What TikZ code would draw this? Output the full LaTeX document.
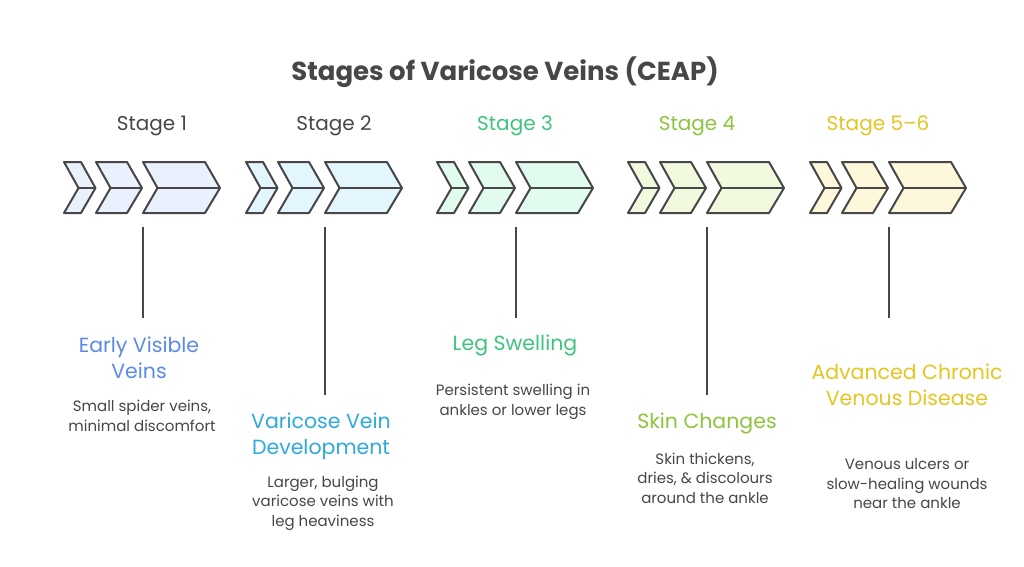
\documentclass[tikz,border=0pt]{standalone}
\usepackage{fontspec}
\setmainfont{Poppins}
\definecolor{ink}{HTML}{474747}
\definecolor{fillA}{HTML}{EAF0FD}
\definecolor{fillB}{HTML}{E4F6FD}
\definecolor{fillC}{HTML}{E2FBEF}
\definecolor{fillD}{HTML}{F1FADF}
\definecolor{fillE}{HTML}{FDF7DC}
\definecolor{colA}{HTML}{5B8BE6}
\definecolor{colB}{HTML}{2EA9DD}
\definecolor{colC}{HTML}{3EC47E}
\definecolor{colD}{HTML}{8DC53E}
\definecolor{colE}{HTML}{E2C624}
\newcommand{\chevgroup}[2]{%
  \begin{scope}[shift={(#1,0)}]
    \filldraw[chev, fill=#2] (0,162) -- (17,162) -- (31.5,188) -- (17,213) -- (0,213) -- (14.5,188) -- cycle;
    \draw[chev] (14.5,188) -- (31.5,188);
    \filldraw[chev, fill=#2] (32,162) -- (63,162) -- (78,188) -- (63,213) -- (32,213) -- (46.5,188) -- cycle;
    \draw[chev] (46.5,188) -- (78,188);
    \filldraw[chev, fill=#2] (79,162) -- (141,162) -- (156,188) -- (141,213) -- (79,213) -- (93.5,188) -- cycle;
    \draw[chev] (93.5,188) -- (156,188);
  \end{scope}}
\begin{document}
\begin{tikzpicture}[x=1pt,y=-1pt,
  chev/.style={draw=ink, line width=2pt, line join=round},
  stem/.style={draw=ink, line width=2pt},
  stagelbl/.style={font=\fontsize{20}{22}\selectfont, anchor=center},
  headlbl/.style={font=\fontsize{20.5}{26}\selectfont, align=center, anchor=center},
  desclbl/.style={font=\fontsize{15}{19.5}\selectfont, text=ink, align=center, anchor=center}]
\useasboundingbox[fill=white] (0,0) rectangle (1024,566);

\node[font=\fontsize{26}{30}\selectfont\bfseries, text=ink] (title) at (505,72) {Stages of Varicose Veins (CEAP)};

\node[stagelbl, text=ink] (st1) at (152,126) {Stage 1};
\node[stagelbl, text=ink] (st2) at (334,126) {Stage 2};
\node[stagelbl, text=colC] (st3) at (515,126) {Stage 3};
\node[stagelbl, text=colD] (st4) at (697,126) {Stage 4};
\node[stagelbl, text=colE] (st5) at (878,126) {Stage 5–6};

\chevgroup{64}{fillA}
\chevgroup{246}{fillB}
\chevgroup{437}{fillC}
\chevgroup{628}{fillD}
\chevgroup{810}{fillE}

\coordinate (t1) at (143,227); \coordinate (b1) at (143,318);
\coordinate (t2) at (325,227); \coordinate (b2) at (325,395);
\coordinate (t3) at (516,227); \coordinate (b3) at (516,318);
\coordinate (t4) at (707,227); \coordinate (b4) at (707,395);
\coordinate (t5) at (889,227); \coordinate (b5) at (889,318);
\draw[stem] (t1) -- (b1);
\draw[stem] (t2) -- (b2);
\draw[stem] (t3) -- (b3);
\draw[stem] (t4) -- (b4);
\draw[stem] (t5) -- (b5);

\node[headlbl, text=colA] (h1) at (139,358) {Early Visible\\Veins};
\node[desclbl] (d1) at (142,416) {Small spider veins,\\minimal discomfort};

\node[headlbl, text=colB] (h2) at (321,436) {Varicose Vein\\Development};
\node[desclbl] (d2) at (323,503) {Larger, bulging\\varicose veins with\\leg heaviness};

\node[headlbl, text=colC] (h3) at (515,345) {Leg Swelling};
\node[desclbl] (d3) at (513,402) {Persistent swelling in\\ankles or lower legs};

\node[headlbl, text=colD] (h4) at (707,423) {Skin Changes};
\node[desclbl] (d4) at (705,478) {Skin thickens,\\dries, \& discolours\\around the ankle};

\node[headlbl, text=colE] (h5) at (907,385) {Advanced Chronic\\Venous Disease};
\node[desclbl] (d5) at (907,484) {Venous ulcers or\\slow-healing wounds\\near the ankle};
\end{tikzpicture}
\end{document}
